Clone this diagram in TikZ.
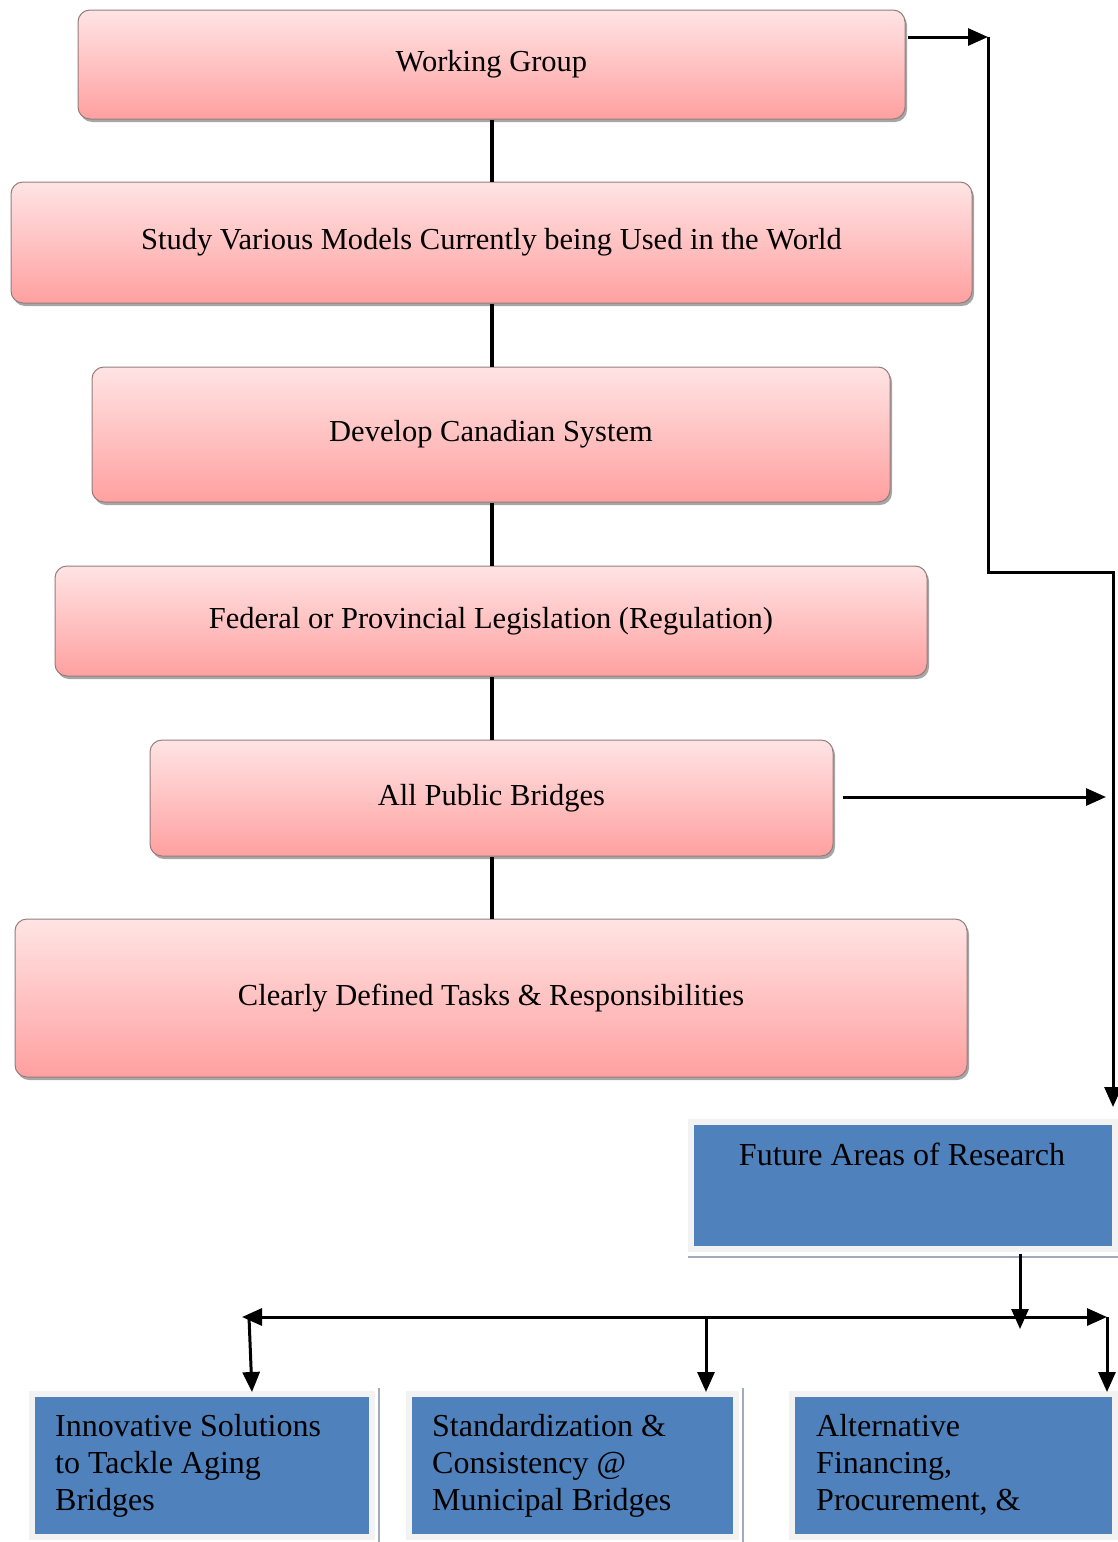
\documentclass[tikz,border=0pt]{standalone}
\usepackage{fontspec}
\setmainfont{Liberation Serif}
\usetikzlibrary{shadows,arrows.meta,calc}
\definecolor{pinkTop}{RGB}{255,228,228}
\definecolor{pinkBot}{RGB}{255,160,160}
\definecolor{pinkEdge}{RGB}{150,125,125}
\definecolor{boxBlue}{RGB}{79,129,189}
\definecolor{frameGray}{RGB}{242,242,242}
\definecolor{shadeLine}{RGB}{160,170,188}
\tikzset{
  pinkbox/.style={rectangle, rounded corners=12pt, draw=pinkEdge, line width=1pt,
    top color=pinkTop, bottom color=pinkBot,
    drop shadow={shadow xshift=2pt, shadow yshift=-3pt, opacity=0.35, fill=black},
    font=\fontsize{30.5}{36}\selectfont, inner sep=0pt},
  bluebox/.style={rectangle, fill=boxBlue, draw=frameGray, line width=6pt, inner sep=0pt},
  bluetext/.style={inner sep=0pt, align=left, font=\fontsize{32}{37}\selectfont},
  vline/.style={line width=4pt},
  conn/.style={line width=3pt},
  tip/.style={Triangle[length=20pt,width=17pt]},
  arr/.style={line width=3pt, -{Triangle[length=20pt,width=17pt]}},
  dbl/.style={line width=3pt, {Triangle[length=20pt,width=17pt]}-{Triangle[length=20pt,width=17pt]}},
  edgeshade/.style={draw=shadeLine, line width=2pt},
}
\begin{document}
\begin{tikzpicture}[x=1pt,y=-1pt]
\useasboundingbox (0,0) rectangle (1117,1542);
\fill[white] (0,0) rectangle (1117,1542);

% pink chain
\node[pinkbox, minimum width=827pt, minimum height=109pt] (wg) at (491.5,64.5) {Working Group};
\node[pinkbox, minimum width=961pt, minimum height=121pt] (st) at (491.5,242.5) {Study Various Models Currently being Used in the World};
\node[pinkbox, minimum width=798pt, minimum height=135pt] (dv) at (491,434.5) {Develop Canadian System};
\node[pinkbox, minimum width=872pt, minimum height=110pt] (fd) at (491,621) {Federal or Provincial Legislation (Regulation)};
\node[pinkbox, minimum width=683pt, minimum height=116pt] (ap) at (491.5,798) {All Public Bridges};
\node[pinkbox, minimum width=952pt, minimum height=158pt] (cd) at (491,998) {Clearly Defined Tasks \& Responsibilities};

\draw[vline] (wg.south) -- (wg.south |- st.north);
\draw[vline] (wg.south |- st.south) -- (wg.south |- dv.north);
\draw[vline] (wg.south |- dv.south) -- (wg.south |- fd.north);
\draw[vline] (wg.south |- fd.south) -- (wg.south |- ap.north);
\draw[vline] (wg.south |- ap.south) -- (wg.south |- cd.north);

% future box
\node[bluebox, minimum width=423.5pt, minimum height=127pt] (fu) at (903,1185) {};
\draw[edgeshade] ([yshift=-5pt]fu.south west) -- ([xshift=3pt,yshift=-5pt]fu.south east);
\node[bluetext, anchor=base] (futxt) at (902,1165) {Future Areas of Research};

% bottom boxes
\node[bluebox, minimum width=340pt, minimum height=143pt] (b1) at (201.5,1465) {};
\node[bluebox, minimum width=327pt, minimum height=143pt] (b2) at (572,1465) {};
\node[bluebox, minimum width=323pt, minimum height=143pt] (b3) at (953,1465) {};
\foreach \b in {b1,b2,b3}{
  \draw[edgeshade] ([xshift=4.5pt,yshift=3pt]\b.north east) -- ([xshift=4.5pt,yshift=-4.5pt]\b.south east)
    -- ([xshift=3pt,yshift=-4.5pt]\b.south west);
}
\node[bluetext, anchor=base west] (t1) at (55,1510) {Innovative Solutions\\to Tackle Aging\\Bridges};
\node[bluetext, anchor=base west] (t2) at (432,1510) {Standardization \&\\Consistency @\\Municipal Bridges};
\node[bluetext, anchor=base west] (t3) at (816,1510) {Alternative\\Financing,\\Procurement, \&};

% right side connectors
\coordinate (j1) at (988,37);
\coordinate (j2) at (988,572);
\coordinate (j3) at (1113,572);
\coordinate (fin) at (1113,1107);
\draw[arr] ([xshift=2pt]wg.east |- j1) -- (j1);
\draw[conn] (j1) -- (j2) -- (j3) -- ($(fin)+(0,-15)$);
\draw[arr] ($(fin)+(0,-18)$) -- (fin);

\coordinate (apEnd) at (1106,797);
\draw[arr] ([xshift=9pt]ap.east |- apEnd) -- (apEnd);

% bus
\coordinate (fd1) at (1020,1329);
\draw[arr] ([yshift=-2pt]fu.south -| fd1) -- (fd1);
\coordinate (busL) at (242,1317);
\coordinate (busR) at (1107,1317);
\draw[dbl] (busL) -- (busR);
\coordinate (d1) at (249,1317);
\coordinate (d2) at (706,1317);
\draw[arr] (d1) -- (252,1392);
\draw[arr] (d2) -- (706,1392);
\draw[arr] (busR) -- (1107,1392);
\end{tikzpicture}
\end{document}
